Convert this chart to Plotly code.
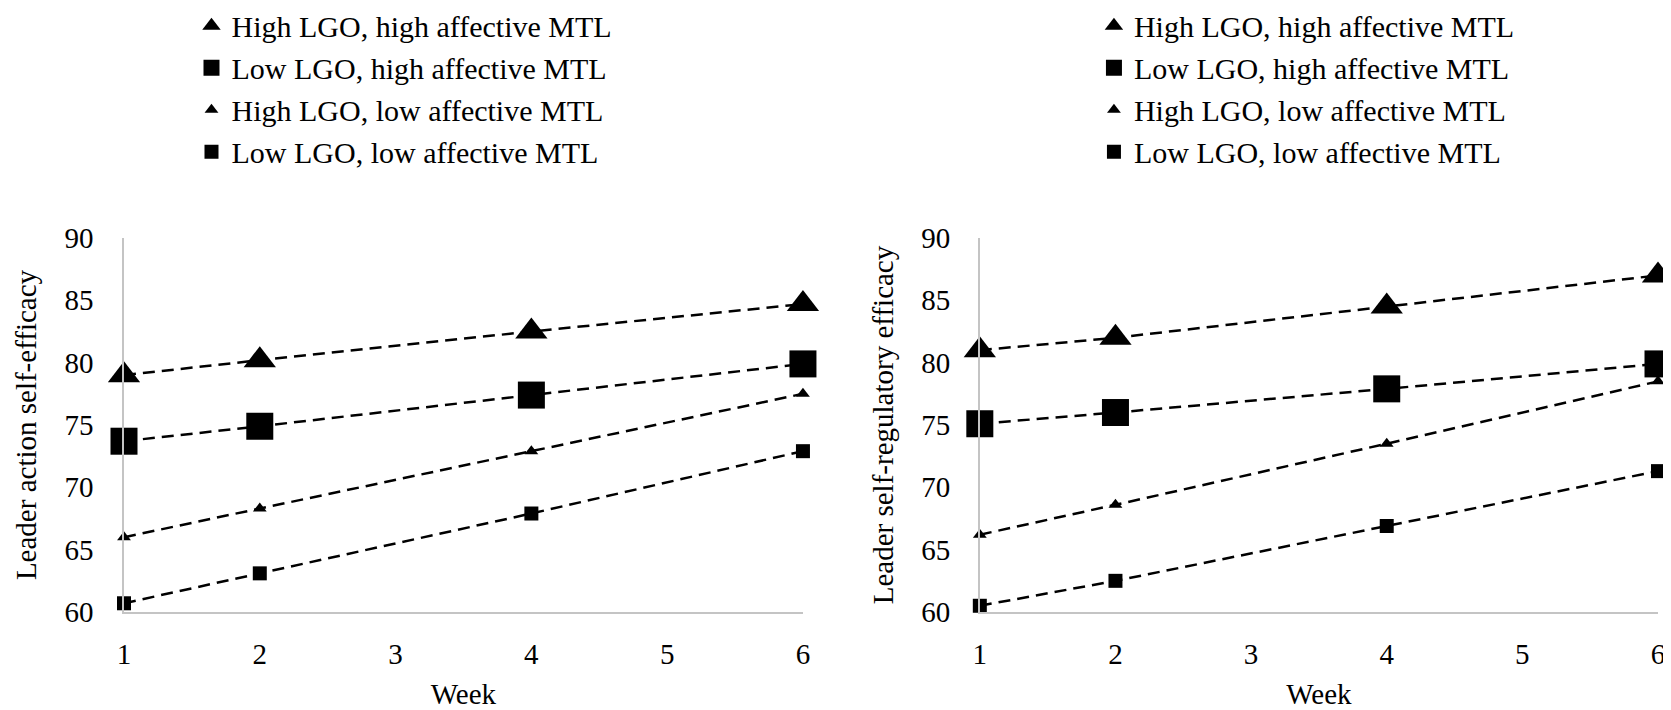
import plotly.graph_objects as go

# ---------------- data ----------------
weeks = [1, 2, 4, 6]
series_names = [
    "High LGO, high affective MTL",
    "Low LGO, high affective MTL",
    "High LGO, low affective MTL",
    "Low LGO, low affective MTL",
]
# Left panel: Leader action self-efficacy
action_hh = [79.0, 80.2, 82.5, 84.7]
action_lh = [73.7, 74.9, 77.4, 79.9]
action_hl = [66.0, 68.3, 72.9, 77.5]
action_ll = [60.7, 63.1, 67.9, 72.9]
# Right panel: Leader self-regulatory efficacy
reg_hh = [81.0, 82.0, 84.5, 87.0]
reg_lh = [75.1, 76.0, 77.9, 79.9]
reg_hl = [66.2, 68.6, 73.5, 78.5]
reg_ll = [60.5, 62.5, 66.9, 71.3]

x_ticks = [1, 2, 3, 4, 5, 6]
y_ticks = [60, 65, 70, 75, 80, 85, 90]
left_title = "Leader action self-efficacy"
right_title = "Leader self-regulatory efficacy"
x_title = "Week"

# ---------------- styles ----------------
FONT = "Liberation Serif, Times New Roman, serif"
symbols = ["triangle-up", "square", "triangle-up", "square"]
sizes = [28, 27, 12, 14]
AXIS_COLOR = "#c4c4c4"

fig = go.Figure()

panels = [
    ("x", "y", "legend", [action_hh, action_lh, action_hl, action_ll]),
    ("x2", "y2", "legend2", [reg_hh, reg_lh, reg_hl, reg_ll]),
]

for xa, ya, lg, series in panels:
    for name, vals in zip(series_names, series):
        fig.add_trace(go.Scatter(
            x=weeks, y=vals, mode="lines", xaxis=xa, yaxis=ya,
            line=dict(color="black", width=2.5, dash="12px,7px"),
            showlegend=False, hoverinfo="skip", cliponaxis=False,
        ))
    for name, vals, sym, sz in zip(series_names, series, symbols, sizes):
        fig.add_trace(go.Scatter(
            x=weeks, y=vals, mode="markers", name=name, xaxis=xa, yaxis=ya,
            marker=dict(symbol=sym, size=sz, color="black", line=dict(width=0)),
            legend=lg, showlegend=True, cliponaxis=False,
        ))

axis_common = dict(
    showgrid=False, zeroline=False, showline=True,
    linecolor=AXIS_COLOR, linewidth=1.5,
    ticks="", tickfont=dict(family=FONT, size=29, color="black"),
)

# The page body has an 8px margin, so the figure is 8px smaller than the window
fig.update_layout(
    width=1663, height=702,
    margin=dict(l=116, r=13, t=230, b=98, autoexpand=False),
    paper_bgcolor="white", plot_bgcolor="white",
    font=dict(family=FONT, size=29, color="black"),
    xaxis=dict(domain=[0, 0.4426], range=[1, 6], tickvals=x_ticks,
               ticklabelstandoff=15,
               title=dict(text=x_title, font=dict(family=FONT, size=29), standoff=33),
               anchor="y", **axis_common),
    yaxis=dict(range=[60, 90], tickvals=y_ticks, anchor="x",
               ticklabelstandoff=23,
               title=dict(text=left_title, font=dict(family=FONT, size=29), standoff=19),
               **axis_common),
    xaxis2=dict(domain=[0.5579, 1], range=[1, 6], tickvals=x_ticks,
                ticklabelstandoff=15,
                title=dict(text=x_title, font=dict(family=FONT, size=29), standoff=33),
                anchor="y2", **axis_common),
    yaxis2=dict(range=[60, 90], tickvals=y_ticks, anchor="x2",
                ticklabelstandoff=22,
                title=dict(text=right_title, font=dict(family=FONT, size=29), standoff=19),
                **axis_common),
    legend=dict(x=0.044, y=1.637, xanchor="left", yanchor="top",
                font=dict(family=FONT, size=30, color="black"),
                bgcolor="rgba(0,0,0,0)", itemwidth=30, itemsizing="trace"),
    legend2=dict(x=0.6323, y=1.637, xanchor="left", yanchor="top",
                 font=dict(family=FONT, size=30, color="black"),
                 bgcolor="rgba(0,0,0,0)", itemwidth=30, itemsizing="trace"),
)

fig.write_html("out.html")
